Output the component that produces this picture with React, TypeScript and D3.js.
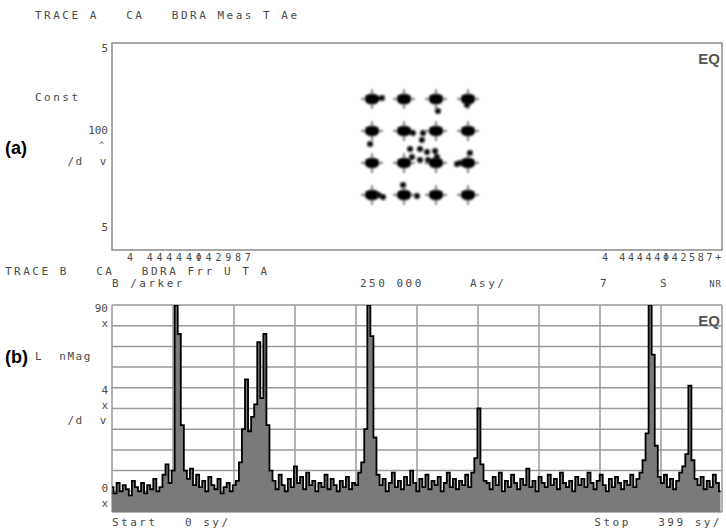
import React from "react";
import * as d3 from "d3";

// ---- Panel (a): 16-QAM constellation ----
const constLevels = [-3, -1, 1, 3];
const strayI = [1.12, -3.12, -0.44, 0.19, 0.12, -0.62, 0, 0.44, 0.94, -0.5, 0, 0.5, 1.06, 3.12, 2.31, -1.06, -2.31, -0.19, 2.94, -2.38, 2.5, -2.6];
const strayQ = [2.25, 0.19, 0.88, 0.88, 0.44, -0.12, -0.12, -0.31, -0.25, -0.62, -0.81, -0.81, -0.62, -0.38, -1.06, -2.38, -3.12, -3.06, 2.62, 3.06, -1.0, -3.0];

// ---- Panel (b): LinMag trace (divisions, every 2nd symbol) ----
const symbolStep = 2;
const magValues = [
  1.2, 0.9, 1.4, 1.0, 1.3, 1.1, 0.8, 1.5, 1.2, 1.0, 1.4, 0.9, 1.3, 1.1, 1.6, 1.0, 1.2, 1.8, 2.3, 1.4, 2.0,
  10, 8.6, 4.2, 2.0,
  1.6, 2.1, 1.3, 1.8, 1.2, 1.5, 1.0, 1.7, 1.3, 1.1, 1.6, 0.9, 1.2, 1.4, 1.0, 1.3, 1.5,
  2.4, 4.0, 6.4, 3.9, 4.6, 5.2, 8.2, 5.5, 8.6, 4.2, 2.0,
  1.5, 1.1, 1.8, 1.3, 1.0, 1.6, 1.2, 2.2, 1.4, 1.7, 1.1, 1.9, 1.3, 1.5, 1.0, 1.4, 1.2, 1.8, 1.1, 1.6, 1.3, 1.0, 1.5, 1.2, 1.7, 1.1, 1.4, 1.3, 1.9, 2.4,
  4.0, 10, 8.5, 3.6, 1.8,
  1.3, 1.6, 1.0, 1.4, 1.9, 1.2, 1.5, 1.1, 1.7, 1.3, 2.0, 1.4, 1.0, 1.6, 1.2, 1.8, 1.1, 1.5, 1.3, 1.7, 1.0, 1.4, 1.9, 1.2, 1.6, 1.1, 1.5, 1.3, 1.8, 1.2,
  1.9, 2.6, 5.0, 2.3, 1.5,
  1.4, 1.1, 1.7, 1.3, 1.9, 1.0, 1.5, 1.2, 1.8, 1.4, 1.1, 1.6, 1.3, 2.1, 1.2, 1.5, 1.0, 1.7, 1.4, 1.2, 1.8, 1.3, 1.6, 1.1, 1.9, 1.4, 1.2, 1.5, 1.0, 1.7, 1.3, 1.6, 1.2, 1.9, 1.4, 1.1, 1.5, 1.8, 1.3, 1.0, 1.6, 1.2, 1.7, 1.4, 1.1, 1.5, 1.3, 1.8, 1.2, 1.6,
  1.9, 2.5, 3.8, 10, 7.6, 3.2, 1.7,
  1.4, 1.8, 1.2, 1.6, 1.1, 1.5, 1.9,
  2.2, 2.8, 6.1, 2.5, 1.6,
  1.3, 1.7, 1.1, 1.5, 1.2, 1.8, 1.4, 1.0,
];
const gridDivs = d3.range(0, 11);

const W = 726, H = 532;
const A = { l: 112, r: 722, t: 43, b: 250 };
const B = { l: 112, r: 722, t: 305, b: 512 };

const mono = "'DejaVu Sans Mono', monospace";
const txt = "#4a4a4a";
const narrow = "'Liberation Sans Narrow', 'Liberation Sans', sans-serif";

export default function App() {
  const xA = d3.scaleLinear().domain([-19.25, 18.875]).range([A.l, A.r]);
  const yA = d3.scaleLinear().domain([-6.44, 6.5]).range([A.b, A.t]);

  const xB = d3.scaleLinear().domain([0, 399]).range([B.l, B.r]);
  const yB = d3.scaleLinear().domain([0, 10]).range([B.b, B.t]).clamp(true);
  const gx = d3.scaleLinear().domain([0, 10]).range([B.l, B.r]);

  const pts = magValues.map((v, i) => [i * symbolStep, v] as [number, number]);
  const area = d3.area<[number, number]>().x(d => xB(d[0])).y0(B.b).y1(d => yB(d[1])).curve(d3.curveStep);
  const line = d3.line<[number, number]>().x(d => xB(d[0])).y(d => yB(d[1])).curve(d3.curveStep);

  const ideal: [number, number][] = [];
  constLevels.forEach(q => constLevels.forEach(i => ideal.push([i, q])));

  const t = (x: number, y: number, s: string, anchor: string = "start", ls = 2.5, size = 11) => (
    <text x={x} y={y} textAnchor={anchor} fontFamily={mono} fontSize={size} letterSpacing={ls}
      fill={txt} style={{ whiteSpace: "pre" }}>{s}</text>
  );

  return (
    <svg width={W} height={H} style={{ position: "absolute", left: 0, top: 0, background: "#fff" }}>
      <defs>
        <filter id="soft" x="-20%" y="-20%" width="140%" height="140%">
          <feGaussianBlur stdDeviation="0.9" />
        </filter>
        <clipPath id="clipB"><rect x={B.l} y={B.t} width={B.r - B.l} height={B.b - B.t} /></clipPath>
      </defs>
      <rect width={W} height={H} fill="#fff" />

      {/* Panel (a) */}
      {t(35, 19, "TRACE A   CA   BDRA Meas T Ae")}
      <rect x={A.l} y={A.t} width={A.r - A.l} height={A.b - A.t} fill="none" stroke="#8a8a8a" strokeWidth={1.5} />
      {t(108, 52, "5", "end", 0)}
      {t(35, 101, "Const")}
      {t(108, 134, "100", "end", 0)}
      {t(104, 148, "^", "end", 0, 8)}
      {t(108, 165, "/d  v", "end", 1.5)}
      {t(108, 231, "5", "end", 0)}
      <text x={720} y={64} textAnchor="end" fontFamily={narrow} fontWeight="bold" fontSize={15} fill="#555">EQ</text>
      {t(127, 261, "4 44444Φ42987", "start", 3.8, 10)}
      {t(724, 261, "4 44444Φ42587+", "end", 2.7, 10)}

      <g filter="url(#soft)">
        {ideal.map(([i, q], k) => (
          <g key={k}>
            <line x1={xA(i) - 11} x2={xA(i) + 11} y1={yA(q)} y2={yA(q)} stroke="#888" strokeWidth={2.2} />
            <line x1={xA(i)} x2={xA(i)} y1={yA(q) - 10} y2={yA(q) + 10} stroke="#888" strokeWidth={2.2} />
            <ellipse cx={xA(i)} cy={yA(q)} rx={7.5} ry={5.5} fill="#000" />
          </g>
        ))}
        {strayI.map((v, k) => (
          <circle key={k} cx={xA(v)} cy={yA(strayQ[k])} r={3} fill="#111" />
        ))}
      </g>

      {/* Panel (b) header */}
      {t(5, 275, "TRACE B   CA   BDRA Frr U T A")}
      {t(112, 287, "B /arker")}
      {t(360, 287, "250 000")}
      {t(470, 287, "Asy/")}
      {t(600, 287, "7")}
      {t(660, 287, "S")}
      {t(722, 287, "NR", "end", 1, 9)}

      {/* Panel (b) grid */}
      {gridDivs.map(d => (
        <line key={"h" + d} x1={B.l} x2={B.r} y1={yB(d)} y2={yB(d)} stroke="#9a9a9a" strokeWidth={1.5} />
      ))}
      {gridDivs.map(d => (
        <line key={"v" + d} x1={gx(d)} x2={gx(d)} y1={B.t} y2={B.b} stroke="#9a9a9a" strokeWidth={1.5} />
      ))}
      <g clipPath="url(#clipB)">
        <path d={area(pts) || ""} fill="#7a7a7a" />
        <path d={line(pts) || ""} fill="none" stroke="#000" strokeWidth={1.8} />
      </g>
      <text x={720} y={326} textAnchor="end" fontFamily={narrow} fontWeight="bold" fontSize={15} fill="#555">EQ</text>

      {t(108, 312, "90", "end", 0)}
      {t(108, 327, "x", "end", 0)}
      {t(35, 360, "L  nMag", "start", 1.5)}
      {t(108, 394, "4", "end", 0)}
      {t(108, 409, "x", "end", 0)}
      {t(108, 424, "/d  v", "end", 1.5)}
      {t(108, 492, "0", "end", 0)}
      {t(108, 507, "x", "end", 0)}
      {t(112, 526, "Start   0 sy/")}
      {t(722, 526, "Stop   399 sy/", "end")}

      <text x={5} y={154} fontFamily={narrow} fontWeight="bold" fontSize={18} fill="#000">(a)</text>
      <text x={5} y={363} fontFamily={narrow} fontWeight="bold" fontSize={18} fill="#000">(b)</text>
    </svg>
  );
}
